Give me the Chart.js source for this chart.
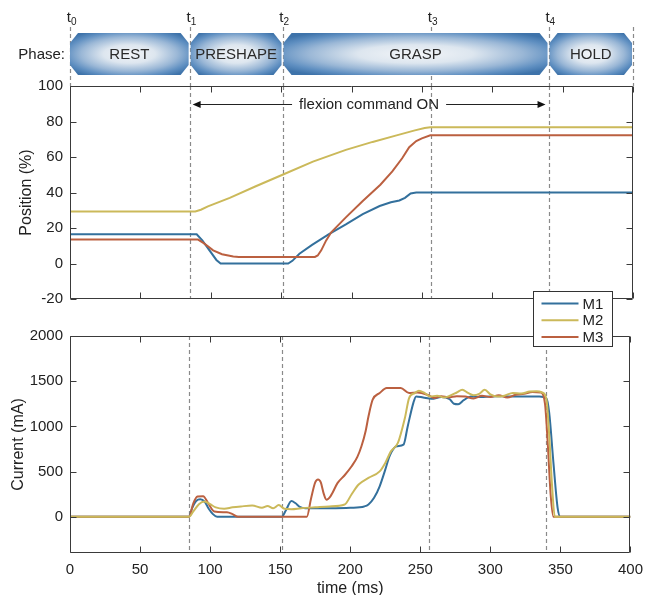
<!DOCTYPE html>
<html>
<head>
<meta charset="utf-8">
<title>Phases, position and current</title>
<script src="https://cdn.jsdelivr.net/npm/chart.js@4.4.1/dist/chart.umd.min.js"></script>
<style>
  html, body { margin: 0; padding: 0; background: #fff; }
  #wrap { position: relative; width: 651px; height: 595px; }
  #wrap canvas { position: absolute; left: 0; }
  #posChart { top: 0; }
  #curChart { top: 280px; }
</style>
</head>
<body>
<div id="wrap">
  <canvas id="posChart" width="651" height="315"></canvas>
  <canvas id="curChart" width="651" height="315"></canvas>
</div>
<script>
// Series
const seriesNames = ['M1', 'M2', 'M3'];
const seriesColors = ['#33709c', '#cbb95a', '#bb6040'];

// Phases and time markers (ms)
const phaseNames = ['REST', 'PRESHAPE', 'GRASP', 'HOLD'];
const phaseEdges = [0, 85, 151, 340, 400];
const markerTimes = [0, 85, 151, 256.5, 340];
const markerSubs = ['0', '1', '2', '3', '4'];
const commandOn = [85, 340];
const commandLevel = 90;
const commandText = 'flexion command ON';

// Position (%)
const posTimeM1 = [0, 90, 94, 104, 107, 155, 158, 163, 172, 184, 196, 208, 220, 228, 234, 238, 242, 246, 400];
const posM1 =     [16.5, 16.5, 13, 2, 0, 0, 1.5, 5.5, 10.5, 16.5, 22, 27.8, 32.4, 34.5, 35.5, 37, 39.5, 40, 40];
const posTimeM2 = [0, 89, 93, 98, 113.5, 132, 151, 172.6, 196, 215, 232, 245, 252, 256, 400];
const posM2 =     [29.3, 29.3, 30.3, 32.2, 37, 43.5, 50, 57.4, 64, 68.5, 72.2, 75, 76.3, 76.8, 76.8];
const posTimeM3 = [0, 91, 95, 101.7, 108, 116, 120, 174, 176, 178.5, 182, 185.6, 196, 208, 220.5, 229, 236, 241, 246, 250, 256, 400];
const posM3 =     [13.5, 13.5, 11.5, 7.4, 5.2, 3.9, 3.7, 3.7, 4.5, 7.4, 13, 17.6, 26, 35.2, 44.4, 51.9, 59.3, 65.5, 69, 70.5, 72.2, 72.2];

// Current (mA)
const curTimeM1 = [
  0, 85, 87, 90, 93, 96, 99, 102, 105, 151,
  154, 158, 161, 164, 168, 185, 200, 210, 213, 217,
  221, 225, 228, 233, 238, 241, 245, 247, 252, 258,
  265, 271, 274, 277, 281, 286, 295, 305, 315, 325,
  335, 340, 342, 345, 348, 350, 400];
const curM1 = [
  0, 0, 90, 175, 195, 170, 90, 30, 0, 0,
  70, 175, 150, 110, 95, 95, 100, 115, 136, 210,
  338, 522, 670, 780, 798, 1000, 1258, 1332, 1320, 1305,
  1325, 1300, 1250, 1245, 1290, 1330, 1325, 1335, 1330, 1330,
  1330, 1310, 1150, 600, 100, 0, 0];
const curTimeM2 = [
  0, 85, 88, 92, 96, 100, 104, 110, 116, 122,
  130, 137, 141, 145, 149, 153, 158, 165, 175, 185,
  196, 201, 206, 213, 221, 225, 229, 234, 239, 242,
  246, 249, 253, 257, 262, 267, 272, 276, 280, 284,
  288, 292, 296, 300, 305, 310, 316, 322, 328, 333,
  337, 340, 342, 344, 346, 400];
const curM2 = [
  0, 0, 60, 140, 170, 140, 105, 90, 105, 115,
  125, 100, 120, 95, 130, 90, 85, 95, 105, 115,
  136, 250, 357, 430, 503, 596, 724, 817, 1093, 1314,
  1369, 1395, 1370, 1330, 1340, 1320, 1345, 1375, 1405, 1370,
  1345, 1360, 1405, 1355, 1330, 1340, 1370, 1365, 1385, 1390,
  1375, 1300, 900, 350, 0, 0];
const curTimeM3 = [
  0, 85, 88, 91, 95, 99, 103, 112, 116, 120,
  169, 172, 175, 177, 179, 181, 183, 186, 191, 196,
  201, 205, 208, 211, 213, 216, 221, 226, 236, 242,
  248, 255, 260, 265, 270, 276, 282, 288, 294, 300,
  306, 312, 318, 324, 330, 336, 339, 341, 343, 345,
  400];
const curM3 = [
  0, 0, 150, 225, 228, 140, 60, 50, 30, 0,
  0, 200, 380, 412, 380, 260, 190, 230, 375, 460,
  559, 660, 780, 950, 1110, 1295, 1369, 1424, 1424, 1370,
  1375, 1350, 1315, 1335, 1320, 1335, 1330, 1310, 1340, 1325,
  1345, 1320, 1350, 1360, 1380, 1375, 1250, 800, 250, 0,
  0];

const posTicks = [-20, 0, 20, 40, 60, 80, 100];
const curTicks = [0, 500, 1000, 1500, 2000];

const FONT = '"Liberation Sans", Arial, Helvetica, sans-serif';
Chart.defaults.font.family = FONT;
Chart.defaults.color = '#222';

function zip(ts, vs) {
  return ts.map((t, i) => ({ x: t, y: vs[i] }));
}

function makeSets(pairs, smooth) {
  const drawOrder = [3, 1, 2]; // blue underneath
  return pairs.map((p, i) => ({
    label: seriesNames[i],
    data: zip(p[0], p[1]),
    borderColor: seriesColors[i],
    backgroundColor: seriesColors[i],
    borderWidth: 2,
    pointRadius: 0,
    fill: false,
    order: drawOrder[i],
    tension: 0,
    cubicInterpolationMode: smooth ? 'monotone' : 'default'
  }));
}

// frame with inward ticks, like the original plot box
function drawBox(chart) {
  const { ctx, chartArea: a, scales: { x, y } } = chart;
  const L = Math.round(a.left) + 0.5, R = Math.round(a.right) - 0.5;
  const T = Math.round(a.top) + 0.5, B = Math.round(a.bottom) - 0.5;
  ctx.save();
  ctx.strokeStyle = '#3a3a3a';
  ctx.lineWidth = 1;
  ctx.beginPath();
  ctx.rect(L, T, R - L, B - T);
  x.ticks.forEach(t => {
    const px = Math.round(x.getPixelForValue(t.value)) + 0.5;
    ctx.moveTo(px, T); ctx.lineTo(px, T + 6);
    ctx.moveTo(px, B); ctx.lineTo(px, B - 6);
  });
  y.ticks.forEach(t => {
    const py = Math.round(y.getPixelForValue(t.value)) + 0.5;
    ctx.moveTo(L, py); ctx.lineTo(L + 6, py);
    ctx.moveTo(R, py); ctx.lineTo(R - 6, py);
  });
  ctx.stroke();
  ctx.restore();
}

function dashedLine(ctx, px, y0, y1) {
  ctx.beginPath();
  ctx.moveTo(px, y0);
  ctx.lineTo(px, y1);
  ctx.stroke();
}

function drawMarkers(chart) {
  const { ctx, chartArea: a, scales: { x } } = chart;
  ctx.save();
  ctx.strokeStyle = '#8a8a8a';
  ctx.lineWidth = 1.2;
  ctx.setLineDash([4, 3]);
  markerTimes.forEach(t => {
    if (t <= x.min || t >= x.max) return;
    dashedLine(ctx, Math.round(x.getPixelForValue(t)) + 0.5, a.top, a.bottom);
  });
  ctx.restore();
}

function drawBanner(ctx, x0, x1, y0, y1) {
  const cx = 8, cy = 10;
  ctx.save();
  ctx.beginPath();
  ctx.moveTo(x0, y0 + cy);
  ctx.lineTo(x0 + cx, y0);
  ctx.lineTo(x1 - cx, y0);
  ctx.lineTo(x1, y0 + cy);
  ctx.lineTo(x1, y1 - cy);
  ctx.lineTo(x1 - cx, y1);
  ctx.lineTo(x0 + cx, y1);
  ctx.lineTo(x0, y1 - cy);
  ctx.closePath();
  ctx.clip();
  const mx = (x0 + x1) / 2, my = (y0 + y1) / 2;
  const rx = (x1 - x0) / 2, ry = (y1 - y0) / 2;
  ctx.translate(mx, my);
  ctx.scale(rx / ry, 1);
  const g = ctx.createRadialGradient(0, 0, 0, 0, 0, ry * 1.25);
  g.addColorStop(0, '#f3f5f8');
  g.addColorStop(0.35, '#dde6ef');
  g.addColorStop(0.65, '#9ab7d6');
  g.addColorStop(0.85, '#5f8fc1');
  g.addColorStop(1, '#3e73aa');
  ctx.fillStyle = g;
  ctx.fillRect(-ry * 3, -ry * 3, ry * 6, ry * 6);
  ctx.restore();
}

function drawPhases(chart) {
  const { ctx, chartArea: a, scales: { x } } = chart;
  const top = 33, bot = 75;
  ctx.save();
  // marker lines through the phase strip
  ctx.strokeStyle = '#8a8a8a';
  ctx.lineWidth = 1.2;
  ctx.setLineDash([4, 3]);
  markerTimes.concat([x.max]).forEach(t => {
    dashedLine(ctx, Math.round(x.getPixelForValue(t)) + 0.5, 27, a.top);
  });
  ctx.setLineDash([]);

  phaseNames.forEach((name, i) => {
    const x0 = x.getPixelForValue(phaseEdges[i]) + (i > 0 ? 1 : 0);
    const x1 = x.getPixelForValue(phaseEdges[i + 1]) - 1;
    drawBanner(ctx, x0, x1, top, bot);
    ctx.fillStyle = '#2a2a2a';
    ctx.font = '15px ' + FONT;
    ctx.textAlign = 'center';
    ctx.textBaseline = 'middle';
    ctx.fillText(name, (x0 + x1) / 2, (top + bot) / 2 + 1);
  });

  ctx.fillStyle = '#222';
  ctx.font = '15px ' + FONT;
  ctx.textAlign = 'right';
  ctx.textBaseline = 'middle';
  ctx.fillText('Phase:', 65, 55);

  // t0 ... t4 labels
  markerTimes.forEach((t, i) => {
    const px = x.getPixelForValue(t);
    ctx.textBaseline = 'alphabetic';
    ctx.font = '15px ' + FONT;
    ctx.textAlign = 'right';
    ctx.fillText('t', px + 1, 22);
    ctx.font = '10px ' + FONT;
    ctx.textAlign = 'left';
    ctx.fillText(markerSubs[i], px + 1, 25);
  });
  ctx.restore();
}

function drawCommand(chart) {
  const { ctx, scales: { x, y } } = chart;
  const yy = Math.round(y.getPixelForValue(commandLevel)) + 0.5;
  const x0 = x.getPixelForValue(commandOn[0]) + 3;
  const x1 = x.getPixelForValue(commandOn[1]) - 3;
  const cx = (x0 + x1) / 2;
  ctx.save();
  ctx.font = '15px ' + FONT;
  ctx.fillStyle = '#222';
  ctx.textAlign = 'center';
  ctx.textBaseline = 'middle';
  ctx.fillText(commandText, cx, yy);
  const w = ctx.measureText(commandText).width;
  ctx.strokeStyle = '#222';
  ctx.lineWidth = 1;
  ctx.beginPath();
  ctx.moveTo(x0 + 6, yy); ctx.lineTo(cx - w / 2 - 7, yy);
  ctx.moveTo(cx + w / 2 + 7, yy); ctx.lineTo(x1 - 6, yy);
  ctx.stroke();
  ctx.fillStyle = '#111';
  ctx.beginPath();
  ctx.moveTo(x0, yy); ctx.lineTo(x0 + 8, yy - 3.5); ctx.lineTo(x0 + 8, yy + 3.5); ctx.closePath();
  ctx.moveTo(x1, yy); ctx.lineTo(x1 - 8, yy - 3.5); ctx.lineTo(x1 - 8, yy + 3.5); ctx.closePath();
  ctx.fill();
  ctx.restore();
}

function drawLegend(chart) {
  const { ctx } = chart;
  const bx = 533.5, by = 11.5, bw = 79, bh = 55;
  ctx.save();
  ctx.fillStyle = '#fff';
  ctx.fillRect(bx, by, bw, bh);
  ctx.strokeStyle = '#333';
  ctx.lineWidth = 1;
  ctx.strokeRect(bx, by, bw, bh);
  ctx.font = '15px ' + FONT;
  ctx.textAlign = 'left';
  ctx.textBaseline = 'middle';
  chart.data.datasets.forEach((ds, i) => {
    const yy = by + 12 + i * 16.7;
    ctx.strokeStyle = ds.borderColor;
    ctx.lineWidth = 2;
    ctx.beginPath();
    ctx.moveTo(bx + 8, yy);
    ctx.lineTo(bx + 45, yy);
    ctx.stroke();
    ctx.fillStyle = '#222';
    ctx.fillText(ds.label, bx + 49, yy + 1);
  });
  ctx.restore();
}

const posDecor = {
  id: 'posDecor',
  beforeDatasetsDraw(chart) { drawMarkers(chart); },
  afterDatasetsDraw(chart) { drawBox(chart); drawCommand(chart); },
  afterDraw(chart) { drawPhases(chart); }
};

const curDecor = {
  id: 'curDecor',
  beforeDatasetsDraw(chart) { drawMarkers(chart); },
  afterDatasetsDraw(chart) { drawBox(chart); },
  afterDraw(chart) { drawLegend(chart); }
};

const tickFont = { size: 15 };
const titleFont = { size: 16 };

new Chart(document.getElementById('posChart'), {
  type: 'line',
  data: {
    datasets: makeSets([[posTimeM1, posM1], [posTimeM2, posM2], [posTimeM3, posM3]], false)
  },
  options: {
    responsive: false,
    animation: false,
    layout: { padding: { top: 86, right: 18, left: 0, bottom: 0 } },
    plugins: { legend: { display: false }, tooltip: { enabled: false } },
    scales: {
      x: {
        type: 'linear', min: 0, max: 400,
        ticks: { stepSize: 50, display: false },
        grid: { display: false }, border: { display: false },
        afterFit: s => { s.height = 13; }
      },
      y: {
        min: -20, max: 100,
        afterBuildTicks: s => { s.ticks = posTicks.map(v => ({ value: v })); },
        ticks: { font: tickFont, color: '#222', padding: 7, callback: v => String(v) },
        grid: { display: false, drawTicks: false }, border: { display: false },
        title: { display: true, text: 'Position (%)', font: titleFont, color: '#222', padding: { top: 17, bottom: 0 } },
        afterFit: s => { s.width = 70; }
      }
    }
  },
  plugins: [posDecor]
});

new Chart(document.getElementById('curChart'), {
  type: 'line',
  data: {
    datasets: makeSets([[curTimeM1, curM1], [curTimeM2, curM2], [curTimeM3, curM3]], true)
  },
  options: {
    responsive: false,
    animation: false,
    layout: { padding: { top: 56, right: 18, left: 0, bottom: 0 } },
    plugins: { legend: { display: false }, tooltip: { enabled: false } },
    scales: {
      x: {
        type: 'linear', min: 0, max: 400,
        ticks: { stepSize: 50, font: tickFont, color: '#222', padding: 8, maxRotation: 0 },
        grid: { display: false, drawTicks: false }, border: { display: false },
        title: { display: true, text: 'time (ms)', font: titleFont, color: '#222', padding: { top: 0, bottom: -3 } },
        afterFit: s => { s.height = 42; }
      },
      y: {
        min: -400, max: 2000,
        afterBuildTicks: s => { s.ticks = curTicks.map(v => ({ value: v })); },
        ticks: { font: tickFont, color: '#222', padding: 7, callback: v => String(v) },
        grid: { display: false, drawTicks: false }, border: { display: false },
        title: { display: true, text: 'Current (mA)', font: titleFont, color: '#222', padding: { top: 9, bottom: 0 } },
        afterFit: s => { s.width = 70; }
      }
    }
  },
  plugins: [curDecor]
});
</script>
</body>
</html>
